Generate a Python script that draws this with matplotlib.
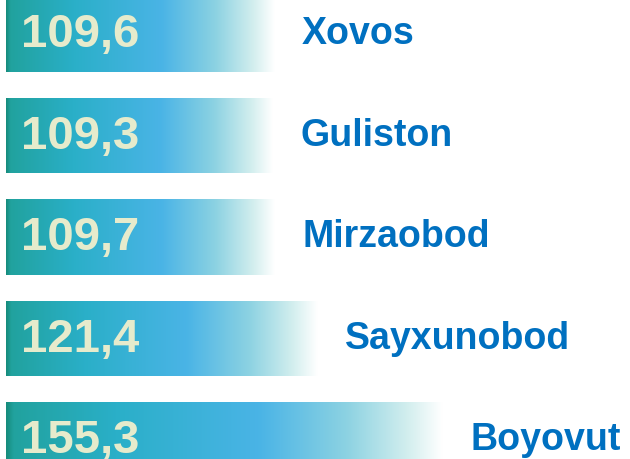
import numpy as np
import matplotlib.pyplot as plt
from matplotlib.colors import LinearSegmentedColormap

# Tumanlar bo'yicha ko'rsatkichlar (%)
districts = ['Xovos', 'Guliston', 'Mirzaobod', 'Sayxunobod', 'Boyovut']
values = [109.6, 109.3, 109.7, 121.4, 155.3]
value_labels = ['109,6', '109,3', '109,7', '121,4', '155,3']

base = 37.0  # o'q boshlanishi (qisqartirilgan shkala)

# Gradient: yashil-moviy -> ko'k -> oq
bar_cmap = LinearSegmentedColormap.from_list('bar_grad', [
    (0.0, '#168c7c'),
    (0.015, '#21a29e'),
    (0.25, '#2aafc8'),
    (0.58, '#4ab4e6'),
    (0.78, '#8cd2e2'),
    (0.92, '#d2eeee'),
    (1.0, '#ffffff'),
])


def draw_chart():
    fig = plt.figure(figsize=(6.3, 4.59), dpi=100)
    ax = fig.add_axes([0, 0, 1, 1])

    y = np.arange(len(districts))
    widths = [v - base for v in values]
    bars = ax.barh(y, widths, left=base, height=0.74, color='none', edgecolor='none')

    grad = np.linspace(0, 1, 256).reshape(1, -1)
    for bar, vlab, name in zip(bars, value_labels, districts):
        x0, y0 = bar.get_x(), bar.get_y()
        x1, y1 = x0 + bar.get_width(), y0 + bar.get_height()
        im = ax.imshow(grad, cmap=bar_cmap, aspect='auto',
                       extent=(x0, x1, y1, y0), interpolation='bicubic', zorder=1)
        im.set_clip_path(bar)
        yc = y0 + bar.get_height() / 2

        # Qiymat bar ichida
        ax.annotate(vlab, (x0, yc), xytext=(11, -1), textcoords='offset points',
                    ha='left', va='center', fontsize=34, fontweight='bold',
                    color='#e6ebcc', family='Liberation Sans', zorder=3)
        # Tuman nomi bar o'ng tomonida
        ax.annotate(name, (x1, yc), xytext=(20, 0), textcoords='offset points',
                    ha='left', va='center', fontsize=27, fontweight='bold',
                    color='#0070c0', family='Liberation Sans', zorder=3)

    ax.set_xlim(35.4, 206)
    ax.set_ylim(4.187, -0.335)
    ax.axis('off')

    fig.savefig('out.png', dpi=100)


if __name__ == '__main__':
    draw_chart()
